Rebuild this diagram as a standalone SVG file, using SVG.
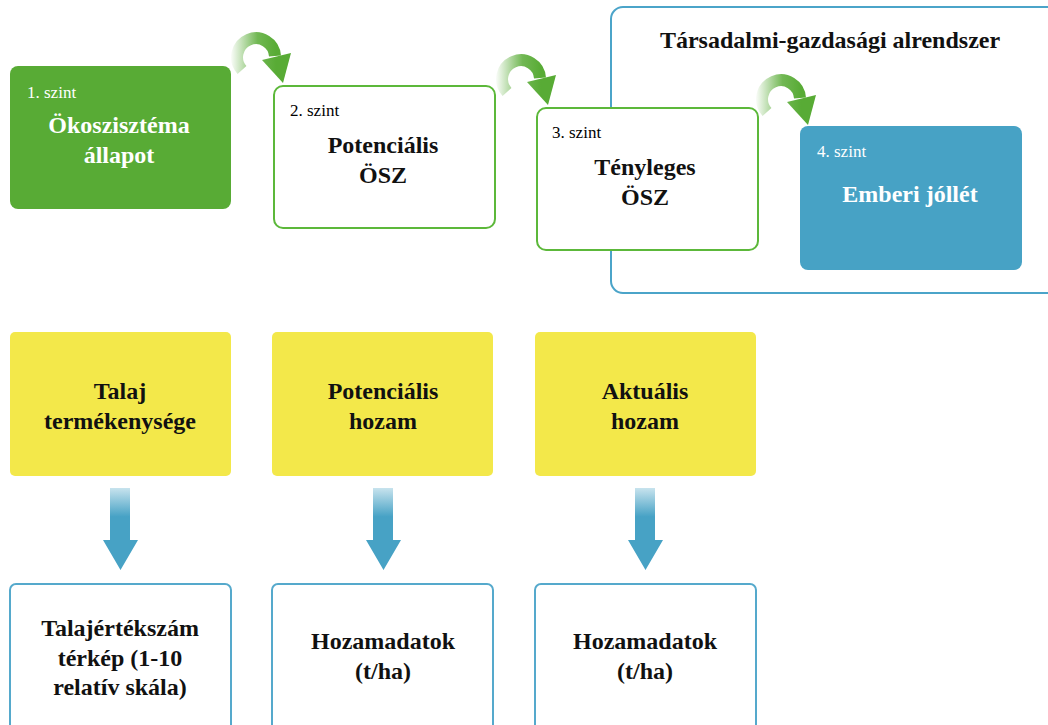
<svg xmlns="http://www.w3.org/2000/svg" width="1048" height="725" viewBox="0 0 1048 725">
<style>
.t{font-family:"Liberation Serif","DejaVu Serif",serif;font-weight:bold;font-size:24px;text-anchor:middle;fill:#111}
.w{fill:#fff}
.s{font-family:"Liberation Serif","DejaVu Serif",serif;font-size:17px}
.green{fill:#58ab35}
.gout{fill:#fff;stroke:#5cb83a;stroke-width:2}
.blue{fill:#47a2c5}
.yel{fill:#f3e84a}
.bout{fill:#fff;stroke:#55a9cc;stroke-width:2}
</style>
<defs>
<linearGradient id="gg" gradientUnits="userSpaceOnUse" x1="230" y1="0" x2="276" y2="0">
<stop offset="0" stop-color="#58ab35" stop-opacity="0"/>
<stop offset="0.6" stop-color="#58ab35" stop-opacity="0.85"/>
<stop offset="1" stop-color="#58ab35"/>
</linearGradient>
<linearGradient id="bg" x1="0" y1="0" x2="0" y2="1">
<stop offset="0" stop-color="#47a2c5" stop-opacity="0.3"/>
<stop offset="0.35" stop-color="#47a2c5"/>
<stop offset="1" stop-color="#47a2c5"/>
</linearGradient>
<g id="carrow">
<path d="M242,70 A19,19 0 1 1 275,56" fill="none" stroke="url(#gg)" stroke-width="12"/>
<polygon points="262,60 291,53 283,83" fill="url(#gg)"/>
</g>
<polygon id="darrow" points="110,488 130,488 130,540 138,540 120.5,570 103,540 110,540" fill="url(#bg)"/>
</defs>

<g id="socio">
<rect x="611" y="7" width="450" height="286" rx="12" fill="none" stroke="#4ba4c9" stroke-width="2"/>
<text class="t" x="830" y="48">Társadalmi-gazdasági alrendszer</text>
</g>

<g id="connectors">
<use href="#carrow"/>
<use href="#carrow" transform="translate(265,22)"/>
<use href="#carrow" transform="translate(525,42)"/>
<use href="#darrow"/>
<use href="#darrow" transform="translate(263,0)"/>
<use href="#darrow" transform="translate(525,0)"/>
</g>

<g id="n1">
<rect class="green" x="10" y="66" width="221" height="143" rx="8"/>
<text class="s w" x="27" y="98">1. szint</text>
<text class="t w" x="119" y="133">Ökoszisztéma</text>
<text class="t w" x="119" y="163">állapot</text>
</g>
<g id="n2">
<rect class="gout" x="274" y="86" width="221" height="142" rx="9"/>
<text class="s" x="290" y="116">2. szint</text>
<text class="t" x="383" y="153">Potenciális</text>
<text class="t" x="383" y="183">ÖSZ</text>
</g>
<g id="n3">
<rect class="gout" x="537" y="108" width="221" height="142" rx="9"/>
<text class="s" x="552" y="138">3. szint</text>
<text class="t" x="645" y="175">Tényleges</text>
<text class="t" x="645" y="205">ÖSZ</text>
</g>
<g id="n4">
<rect class="blue" x="800" y="126" width="222" height="144" rx="8"/>
<text class="s w" x="817" y="157">4. szint</text>
<text class="t w" x="910" y="202">Emberi jóllét</text>
</g>

<g id="y1">
<rect class="yel" x="10" y="332" width="221" height="144" rx="5"/>
<text class="t" x="120" y="399">Talaj</text>
<text class="t" x="120" y="429">termékenysége</text>
</g>
<g id="y2">
<rect class="yel" x="272" y="332" width="221" height="144" rx="5"/>
<text class="t" x="383" y="399">Potenciális</text>
<text class="t" x="383" y="429">hozam</text>
</g>
<g id="y3">
<rect class="yel" x="535" y="332" width="221" height="144" rx="5"/>
<text class="t" x="645" y="399">Aktuális</text>
<text class="t" x="645" y="429">hozam</text>
</g>

<g id="b1">
<rect class="bout" x="10" y="584" width="221" height="150" rx="6"/>
<text class="t" x="120" y="636">Talajértékszám</text>
<text class="t" x="120" y="666">térkép (1-10</text>
<text class="t" x="120" y="695">relatív skála)</text>
</g>
<g id="b2">
<rect class="bout" x="272" y="584" width="221" height="150" rx="6"/>
<text class="t" x="383" y="649">Hozamadatok</text>
<text class="t" x="383" y="679">(t/ha)</text>
</g>
<g id="b3">
<rect class="bout" x="535" y="584" width="221" height="150" rx="6"/>
<text class="t" x="645" y="649">Hozamadatok</text>
<text class="t" x="645" y="679">(t/ha)</text>
</g>
</svg>
